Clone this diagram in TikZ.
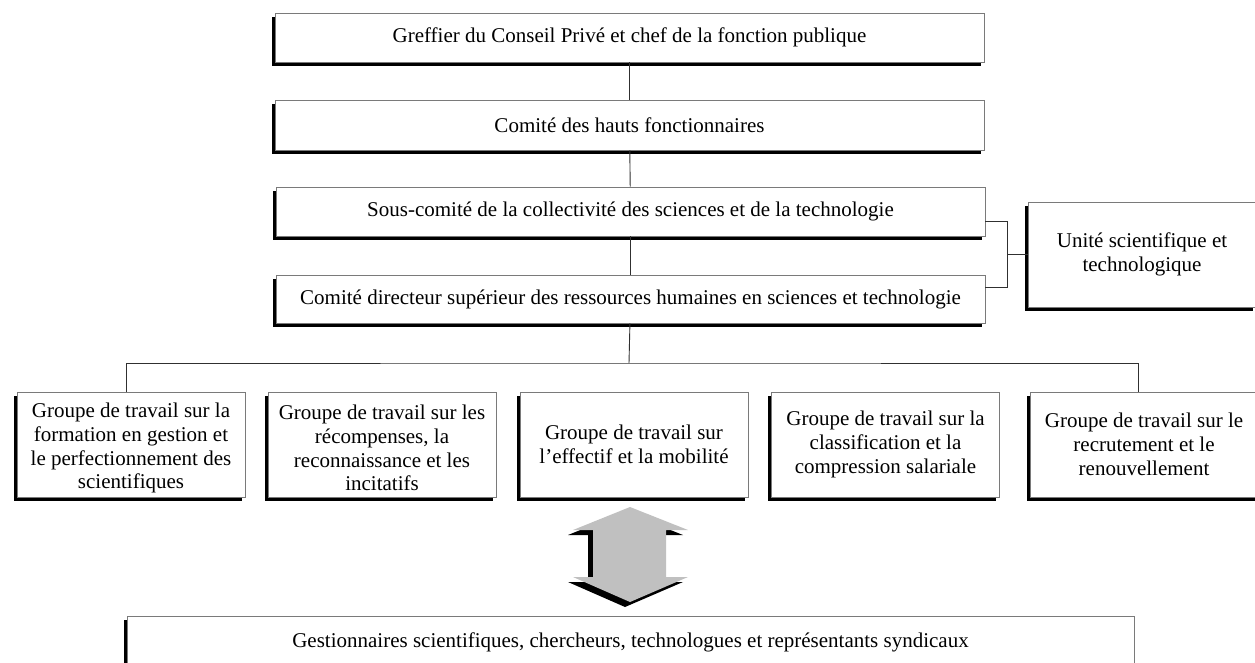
\documentclass[tikz,border=0pt]{standalone}
\usepackage{fontspec}
\setmainfont{Liberation Serif}
\usetikzlibrary{shadows,calc}
\definecolor{boxline}{HTML}{7A7A7A}
\definecolor{linkline}{HTML}{303030}
\definecolor{arrowgray}{HTML}{C0C0C0}
% taller first line, lowers a four-line block a little inside its box
\newcommand{\lowerstrut}{\rule{0pt}{22pt}}
\begin{document}
\begin{tikzpicture}[x=1pt,y=-1pt,
  orgbox/.style={draw=boxline, line width=0.9pt, fill=white, rectangle,
    inner sep=2pt, align=center, font=\fontsize{21}{23.7}\selectfont,
    drop shadow={shadow xshift=-3.5pt, shadow yshift=-3.5pt, opacity=1, fill=black}},
  wide/.style={orgbox, minimum width=709pt},
  groupbox/.style={orgbox, minimum width=228pt, minimum height=105pt},
  conn/.style={draw=linkline, line width=0.9pt}]
\useasboundingbox (0,0) rectangle (1255,662);

% main chain
\node[wide, minimum height=49pt] (greffier) at (629.5,37.5)
  {Greffier du Conseil Privé et chef de la fonction publique};
\node[wide, minimum height=50pt] (hauts) at (629.5,125)
  {Comité des hauts fonctionnaires};
\node[wide, minimum height=49pt] (souscom) at (630.5,211.5)
  {Sous-comité de la collectivité des sciences et de la technologie};
\node[wide, minimum height=48pt] (directeur) at (630.5,299)
  {Comité directeur supérieur des ressources humaines en sciences et technologie};

% side unit
\node[orgbox, minimum width=228pt, minimum height=105pt] (unite) at (1142,254.5)
  {Unité scientifique et\\technologique};

% working groups
\node[groupbox] (g1) at (131,444.5)
  {\lowerstrut Groupe de travail sur la\\formation en gestion et\\le perfectionnement des\\scientifiques};
\node[groupbox] (g2) at (382,444.5)
  {\lowerstrut Groupe de travail sur les\\récompenses, la\\reconnaissance et les\\incitatifs};
\node[groupbox] (g3) at (634,444.5)
  {Groupe de travail sur\\l’effectif et la mobilité};
\node[groupbox] (g4) at (885.5,444.5)
  {Groupe de travail sur la\\classification et la\\compression salariale};
\node[groupbox] (g5) at (1144,444.5)
  {Groupe de travail sur le\\recrutement et le\\renouvellement};

% stakeholders
\node[orgbox, minimum width=1007pt, minimum height=52pt] (gest) at (630.5,642)
  {\raisebox{3pt}{Gestionnaires scientifiques, chercheurs, technologues et représentants syndicaux}};

% vertical links
\draw[conn] (greffier) -- (hauts);
\draw[conn] (hauts) -- (souscom);
\draw[conn] (souscom) -- (directeur);

% bracket to the side unit
\coordinate (brk) at (1007,254.5);
\draw[conn] (souscom.east |- 0,221) -| (brk |- 0,287) -- (directeur.east |- 0,287);
\draw[conn] (unite.west) -- (brk);

% bus to the working groups
\coordinate (bus) at (629,363);
\draw[conn] (directeur) -- (bus);
\draw[conn] ($(g1.north)+(-5,0)$) |- (bus) -| ($(g5.north)+(-6,0)$);
\draw[conn] ($(g2.north)+(-2,0)$) -- ($(g2.north)+(-2,0)$ |- bus);
\draw[conn] ($(g3.north)+(-5,0)$) -- ($(g3.north)+(-5,0)$ |- bus);
\draw[conn] ($(g4.north)+(-4.5,0)$) -- ($(g4.north)+(-4.5,0)$ |- bus);

% two-way arrow between groups and stakeholders
\def\twoway{(630,507) -- (688,530) -- (666,530) -- (666,577) -- (688,577)
  -- (630,602) -- (573,577) -- (593,577) -- (593,530) -- (573,530) -- cycle}
\fill[black, shift={(-5,5)}] \twoway;
\fill[arrowgray] \twoway;
\end{tikzpicture}
\end{document}
